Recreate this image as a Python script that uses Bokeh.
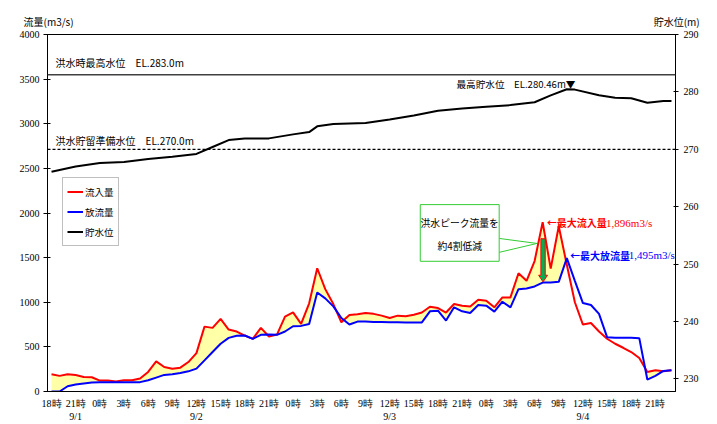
import numpy as np
from bokeh.plotting import figure
from bokeh.models import (Range1d, LinearAxis, FixedTicker, Span, Label, Legend,
                          LegendItem, BoxAnnotation)
from bokeh.embed import file_html
from bokeh.resources import INLINE

# ---------------- data ----------------
hours = list(range(78))  # hours since 9/1 18:00
inflow = [193, 175, 193, 185, 163, 160, 122, 122, 111, 126,
          126, 145, 219, 338, 275, 256, 267, 330, 430, 727,
          713, 813, 694, 672, 627, 590, 713, 616, 638, 839,
          887, 757, 988, 1381, 1147, 980, 776, 857, 865, 880,
          870, 850, 824, 850, 843, 860, 885, 950, 935, 885,
          980, 960, 953, 1028, 1017, 943, 1054, 1054, 1325, 1240,
          1462, 1896, 1377, 1852, 1420, 1000, 750, 768, 672, 591,
          535, 490, 442, 375, 219, 238, 226, 238]
outflow = [0, 0, 59, 78, 89, 100, 104, 105, 105, 105,
           105, 105, 126, 156, 186, 193, 208, 226, 256, 349,
           442, 535, 601, 624, 627, 590, 635, 638, 635, 672,
           731, 735, 757, 1110, 1043, 954, 824, 750, 783, 783,
           780, 778, 776, 776, 774, 774, 774, 898, 906, 795,
           943, 898, 880, 969, 962, 895, 1006, 943, 1147, 1155,
           1177, 1221, 1221, 1229, 1495, 1240, 991, 969, 869, 609,
           602, 602, 602, 598, 134, 175, 230, 238]
level_hours = [0, 3, 6, 9, 12, 15, 18, 20, 22, 24, 27, 30, 32, 33, 35, 39,
               42, 45, 48, 51, 54, 57, 60, 62, 64, 65, 68, 70, 72, 74, 76, 77]
level_values = [266.1, 267.0, 267.6, 267.8, 268.3, 268.7, 269.2, 270.4, 271.6,
                271.9, 271.9, 272.6, 273.0, 274.0, 274.4, 274.6, 275.2, 275.9,
                276.7, 277.1, 277.4, 277.7, 278.2, 279.4, 280.46, 280.4, 279.4,
                279.0, 278.9, 278.1, 278.4, 278.4]
tick_hours = list(range(0, 76, 3))
tick_labels = ["18時", "21時\n9/1", "0時", "3時", "6時", "9時", "12時\n9/2", "15時", "18時",
               "21時", "0時", "3時", "6時", "9時", "12時\n9/3", "15時", "18時", "21時",
               "0時", "3時", "6時", "9時", "12時\n9/4", "15時", "18時", "21時"]
flow_ticks = list(range(0, 4001, 500))
level_ticks = list(range(230, 291, 10))
flood_max_level = 283.0
flood_prep_level = 270.0
left_title = "流量(m3/s)"
right_title = "貯水位(m)"

JP = "Noto Sans CJK JP"
NUM = "Liberation Sans Narrow"

# ---------------- figure ----------------
p = figure(width=717, height=424, x_range=Range1d(-0.5, 77.5), y_range=Range1d(0, 4000),
           output_backend="svg", toolbar_location=None,
           min_border_left=47, min_border_right=42, min_border_top=34, min_border_bottom=31)
p.extra_y_ranges = {"lvl": Range1d(227.8, 290)}
p.xgrid.visible = False
p.ygrid.visible = False
p.outline_line_color = "black"
p.outline_line_alpha = 1
p.outline_line_width = 1
p.background_fill_color = "white"
p.border_fill_color = "white"

# axis titles on one line (left and right)
p.title.text = left_title + "\u3000" * 58 + right_title
p.title.align = "left"
p.title.offset = -24
p.title.standoff = 12
p.title.text_font = JP
p.title.text_font_size = "10px"
p.title.text_font_style = "normal"
p.title.text_color = "black"

# left axis
ya = p.yaxis[0]
ya.ticker = FixedTicker(ticks=flow_ticks)
ya.major_tick_in = 3
ya.major_tick_out = 4
ya.minor_tick_line_color = None
ya.axis_line_color = "black"
ya.major_tick_line_color = "black"
ya.major_label_standoff = 4
ya.major_label_text_font = NUM
ya.major_label_text_font_size = "10px"
ya.major_label_text_color = "black"

# bottom axis
xa = p.xaxis[0]
xa.ticker = FixedTicker(ticks=tick_hours)
xa.major_label_overrides = {h: t for h, t in zip(tick_hours, tick_labels)}
xa.major_tick_in = 0
xa.major_tick_out = 0
xa.minor_tick_line_color = None
xa.axis_line_color = "black"
xa.major_label_standoff = 6
xa.major_label_text_font = NUM
xa.major_label_text_font_size = "10px"
xa.major_label_text_color = "black"

# right axis
ra = LinearAxis(y_range_name="lvl", ticker=FixedTicker(ticks=level_ticks))
ra.major_tick_in = 2
ra.major_tick_out = 3
ra.minor_tick_line_color = None
ra.axis_line_color = "black"
ra.major_tick_line_color = "black"
ra.major_label_standoff = 5
ra.major_label_text_font = NUM
ra.major_label_text_font_size = "10px"
ra.major_label_text_color = "black"
p.add_layout(ra, "right")

# reference levels
p.add_layout(Span(location=flood_max_level, dimension="width", y_range_name="lvl",
                  line_color="#404040", line_width=1.5))
p.add_layout(Span(location=flood_prep_level, dimension="width", y_range_name="lvl",
                  line_color="black", line_width=1.3, line_dash="3 2"))

# fill between inflow and outflow
p.varea(x=hours, y1=outflow, y2=np.maximum(inflow, outflow), fill_color="#FFFFA8")

r_in = p.line(hours, inflow, line_color="#FF0000", line_width=2)
r_out = p.line(hours, outflow, line_color="#0000FF", line_width=2)
r_lvl = p.line(level_hours, level_values, y_range_name="lvl", line_color="black", line_width=2)

# legend
legend = Legend(items=[LegendItem(label="流入量", renderers=[r_in]),
                       LegendItem(label="放流量", renderers=[r_out]),
                       LegendItem(label="貯水位", renderers=[r_lvl])],
                location=(15, 145))
legend.glyph_width = 16
legend.glyph_height = 19
legend.label_height = 19
legend.spacing = 1
legend.padding = 4
legend.margin = 0
legend.label_standoff = 2
legend.label_text_font = JP
legend.label_text_font_size = "9.5px"
legend.label_text_color = "black"
legend.border_line_color = "#808080"
legend.border_line_width = 1
legend.background_fill_alpha = 1
p.add_layout(legend)

# level annotations
p.add_layout(Label(x=0.5, y=285.05, y_range_name="lvl", text="洪水時最高水位　EL.283.0m",
                   text_font=JP, text_font_size="10px", text_color="black",
                   text_baseline="middle"))
p.add_layout(Label(x=0.5, y=271.55, y_range_name="lvl", text="洪水貯留準備水位　EL.270.0m",
                   text_font=JP, text_font_size="10px", text_color="black",
                   text_baseline="middle"))
p.add_layout(Label(x=50.3, y=281.45, y_range_name="lvl", text="最高貯水位　EL.280.46m▼",
                   text_font=JP, text_font_size="9.6px", text_color="black",
                   text_baseline="middle"))

# peak annotations
p.add_layout(Label(x=61.5, y=1893, text="←最大流入量", text_font=JP, text_font_size="10px",
                   text_font_style="bold", text_color="#FF0000", text_baseline="middle"))
p.add_layout(Label(x=68.5, y=1893, text=":1,896m3/s", text_font=NUM, text_font_size="11px",
                   text_color="#FF0000", text_baseline="middle"))
p.add_layout(Label(x=64.4, y=1526, text="←最大放流量", text_font=JP, text_font_size="10px",
                   text_font_style="bold", text_color="#0000FF", text_baseline="middle"))
p.add_layout(Label(x=71.3, y=1526, text=":1,495m3/s", text_font=NUM, text_font_size="11px",
                   text_color="#0000FF", text_baseline="middle"))

# callout
p.multi_line(xs=[[55.6, 60.3], [55.6, 60.3]], ys=[[1715, 1659], [1559, 1659]],
             line_color="#33CC33", line_width=1)
p.patch(x=[60.78, 61.32, 61.32, 61.6, 61.05, 60.5, 60.78],
        y=[1712, 1712, 1303, 1303, 1228, 1303, 1303],
        fill_color="#00B050", line_color="#FF0000", line_width=1)
p.add_layout(BoxAnnotation(left=45.8, right=55.6, bottom=1459, top=2094,
                           fill_color="white", fill_alpha=1,
                           line_color="#33CC33", line_width=1, line_alpha=1))
p.add_layout(Label(x=50.7, y=1893, text="洪水ピーク流量を", text_font=JP, text_font_size="9.8px",
                   text_color="black", text_baseline="middle", text_align="center"))
p.add_layout(Label(x=50.7, y=1626, text="約4割低減", text_font=JP, text_font_size="9.8px",
                   text_color="black", text_baseline="middle", text_align="center"))

open("out.html", "w").write(file_html(p, INLINE))
